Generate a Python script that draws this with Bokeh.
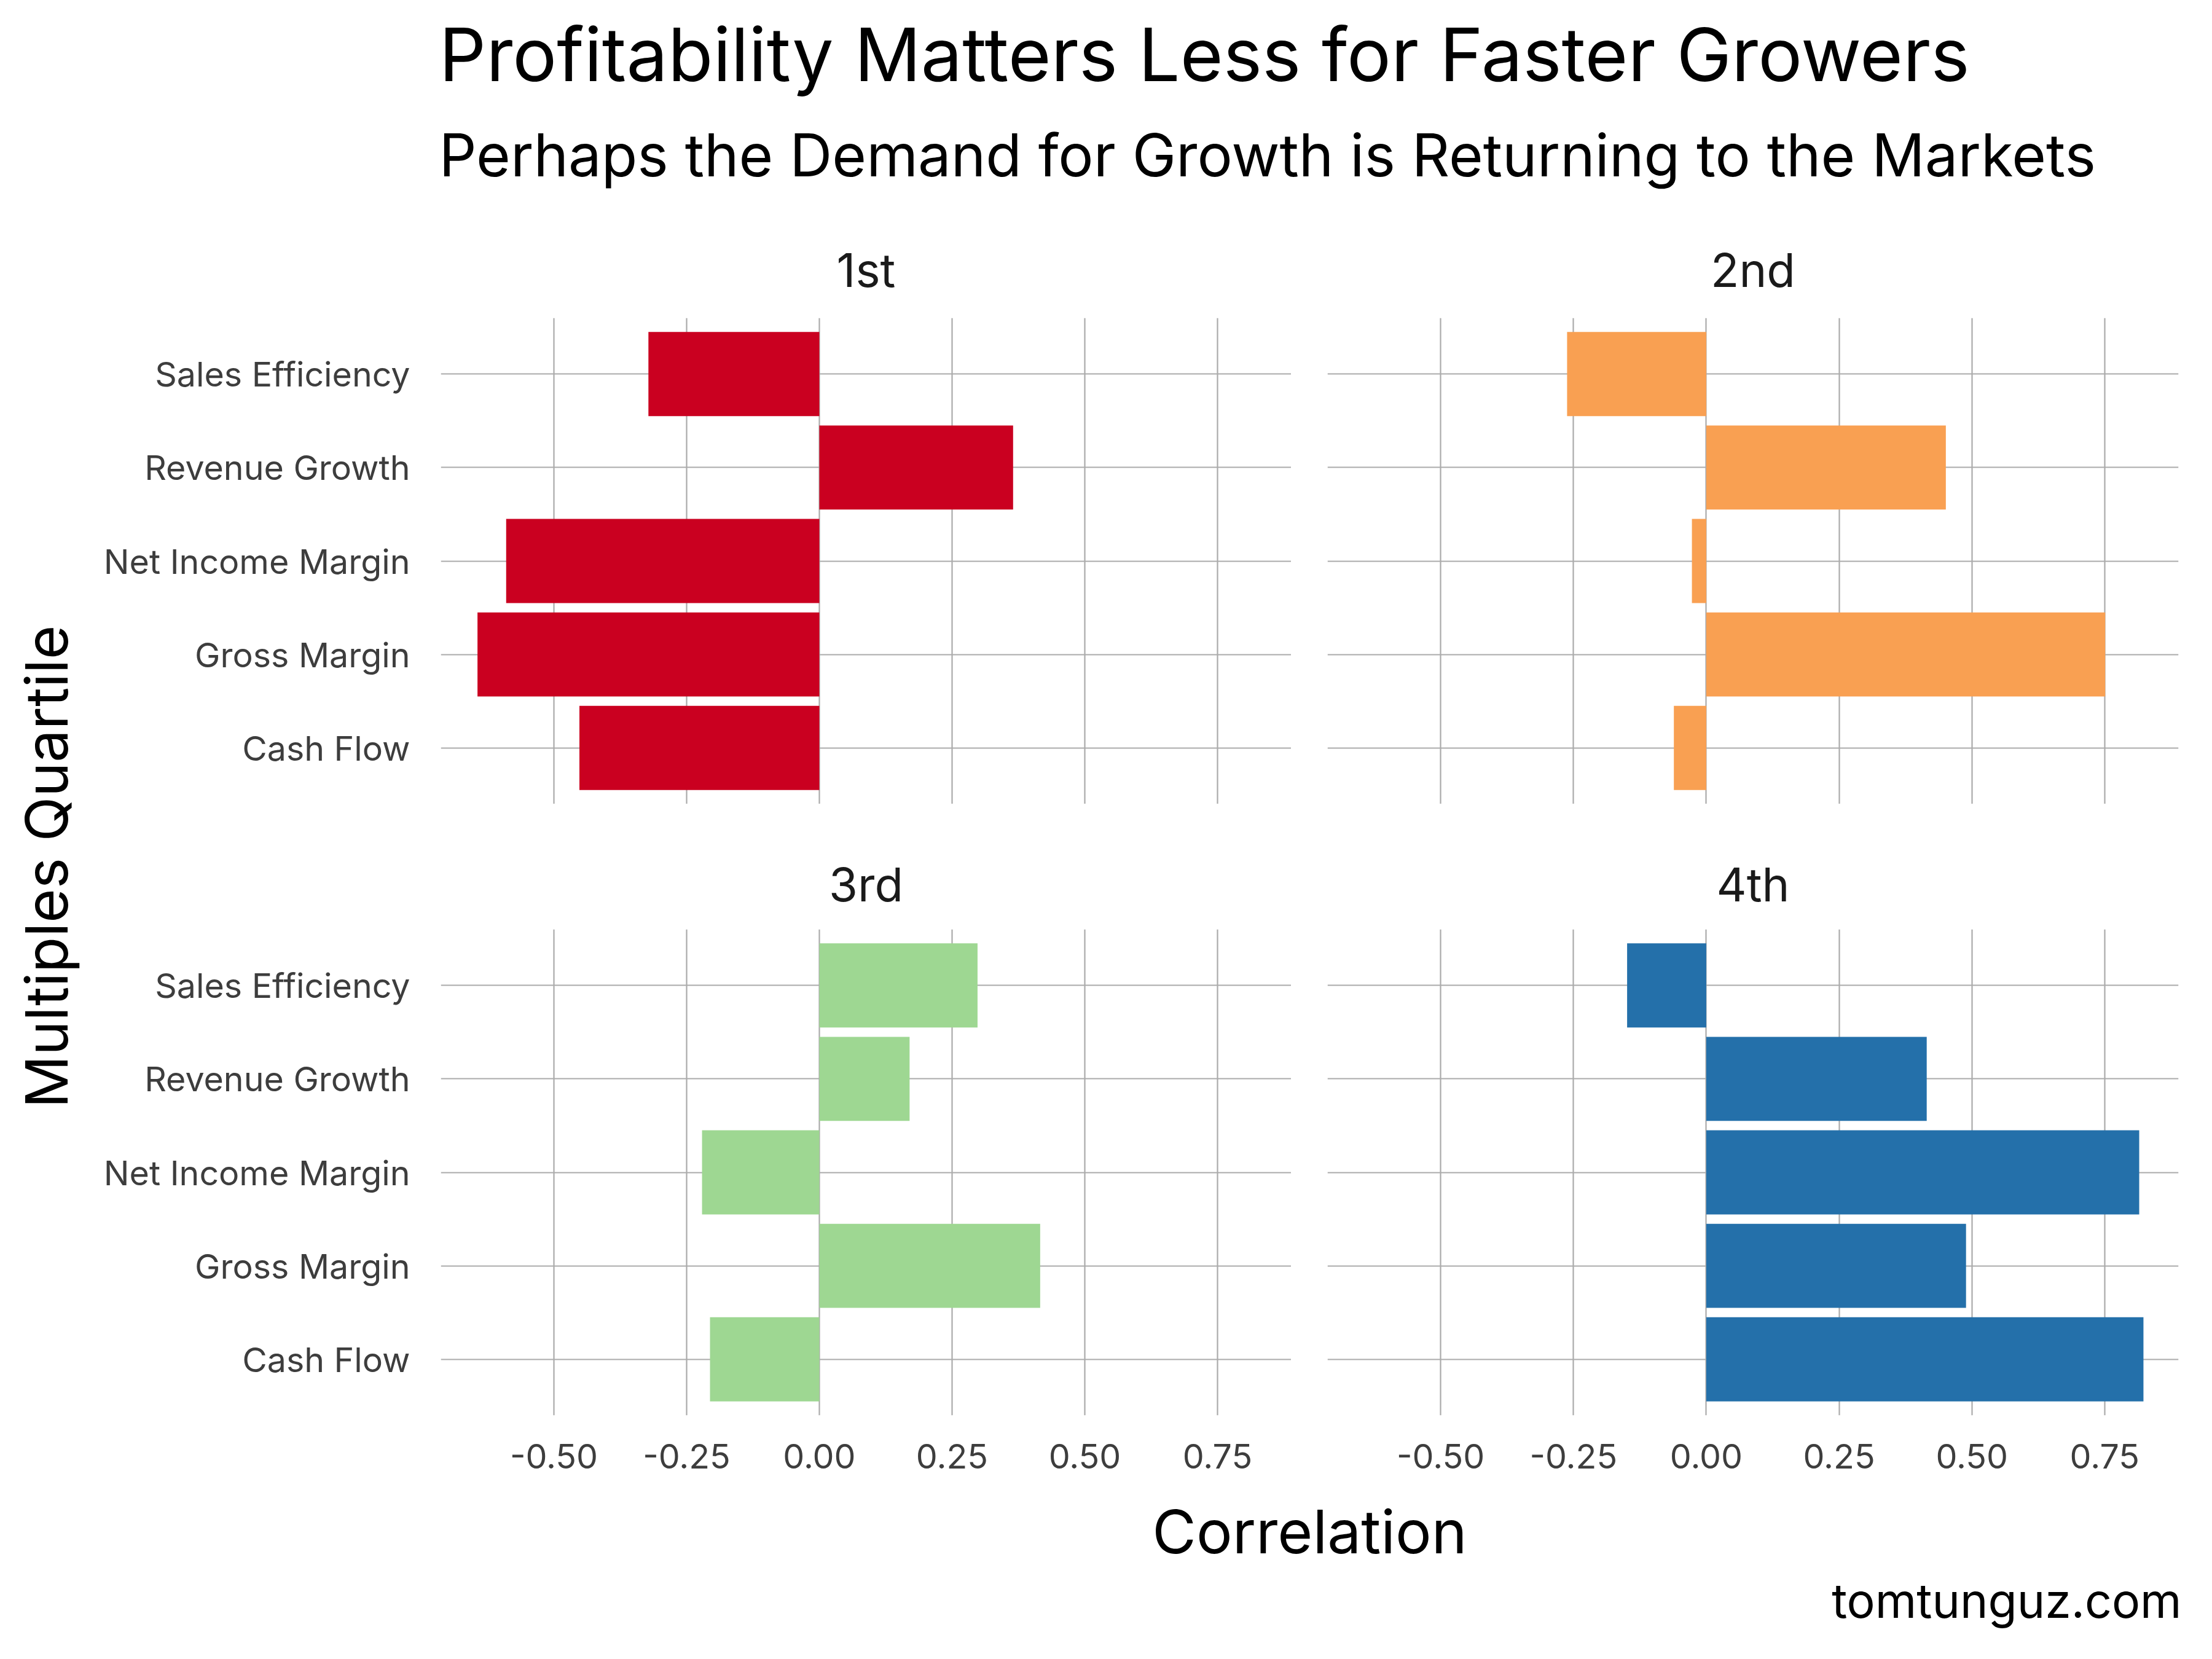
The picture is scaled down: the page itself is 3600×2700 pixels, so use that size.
from bokeh.plotting import figure
from bokeh.models import Label, FactorRange, Range1d, FixedTicker, ColumnDataSource
from bokeh.layouts import column, row
from bokeh.embed import file_html
from bokeh.resources import INLINE
from math import pi

# ---- data ----
metrics = ["Cash Flow", "Gross Margin", "Net Income Margin", "Revenue Growth", "Sales Efficiency"]
quartiles = ["1st", "2nd", "3rd", "4th"]
q1_values = [-0.452, -0.644, -0.590, 0.365, -0.322]
q2_values = [-0.061, 0.751, -0.027, 0.451, -0.262]
q3_values = [-0.206, 0.416, -0.221, 0.170, 0.298]
q4_values = [0.823, 0.489, 0.815, 0.415, -0.149]
quartile_colors = ["#CA0020", "#F9A052", "#9ED792", "#2470AA"]
x_ticks = [-0.5, -0.25, 0.0, 0.25, 0.5, 0.75]
x_tick_labels = ["-0.50", "-0.25", "0.00", "0.25", "0.50", "0.75"]

title_text = "Profitability Matters Less for Faster Growers"
subtitle_text = "Perhaps the Demand for Growth is Returning to the Markets"
x_title = "Correlation"
y_title = "Multiples Quartile"
caption_text = "tomtunguz.com"

# ---- style / layout ----
FONT = "Inter"
GRID = "#ABABAB"
TICK_COLOR = "#3D3D3D"
TICK_SIZE = "55.5px"
X_LIMITS = (-0.713, 0.889)

series = [q1_values, q2_values, q3_values, q4_values]

YLAB_W = 160
LW, RW = 1941, 1491          # left / right panel figure widths
L_BORDER, R_LEFT, R_RIGHT = 557, 59, 47
FRAME_H = 791
HEADER_H, STRIP_H, BOTTOM_AX, FOOTER_H = 517, 204, 120, 268
W = YLAB_W + LW + RW
YLAB_H = FRAME_H * 2 + STRIP_H + BOTTOM_AX

# frame centres (page px) for the strip labels
left_center = YLAB_W + L_BORDER + (LW - L_BORDER) / 2
right_center = YLAB_W + LW + R_LEFT + (RW - R_LEFT - R_RIGHT) / 2


def blank(w, h):
    f = figure(width=w, height=h, x_range=(0, 1), y_range=(0, 1),
               toolbar_location=None, output_backend="svg", min_border=0,
               x_axis_location=None, y_axis_location=None,
               outline_line_color=None)
    f.grid.visible = False
    return f


def label(fig, x, y, text, size, align="left", color="black", angle=0.0, baseline="alphabetic"):
    fig.add_layout(Label(x=x, y=y, x_units="screen", y_units="screen", text=text,
                         angle=angle, text_font=FONT, text_font_size=size, text_color=color,
                         text_baseline=baseline, text_align=align))


def panel(i, width, height, left, right, bottom, show_y, show_x):
    p = figure(width=width, height=height,
               x_range=Range1d(*X_LIMITS),
               y_range=FactorRange(*metrics, range_padding=0.1, range_padding_units="absolute"),
               toolbar_location=None, output_backend="svg",
               min_border_left=left, min_border_right=right,
               min_border_top=0, min_border_bottom=bottom,
               outline_line_color=None)
    src = ColumnDataSource(dict(metric=metrics, value=series[i]))
    p.hbar(y="metric", left=0, right="value", height=0.9, source=src,
           fill_color=quartile_colors[i], line_color=None)
    p.xaxis.ticker = FixedTicker(ticks=x_ticks)
    p.xaxis.major_label_overrides = dict(zip(x_ticks, x_tick_labels))
    for ax in p.axis:
        ax.axis_line_color = None
        ax.major_tick_line_color = None
        ax.minor_tick_line_color = None
        ax.major_tick_out = 0
        ax.major_tick_in = 0
        ax.minor_tick_out = 0
        ax.major_label_text_font = FONT
        ax.major_label_text_font_size = TICK_SIZE
        ax.major_label_text_color = TICK_COLOR
    p.yaxis.major_label_standoff = 50
    p.xaxis.major_label_standoff = 46
    p.xgrid.grid_line_color = GRID
    p.xgrid.grid_line_width = 2.2
    p.ygrid.grid_line_color = GRID
    p.ygrid.grid_line_width = 2.2
    p.xaxis.visible = show_x
    p.yaxis.visible = show_y
    return p


p1 = panel(0, LW, FRAME_H, L_BORDER, 0, 0, True, False)
p2 = panel(1, RW, FRAME_H, R_LEFT, R_RIGHT, 0, False, False)
p3 = panel(2, LW, FRAME_H + BOTTOM_AX, L_BORDER, 0, BOTTOM_AX, True, True)
p4 = panel(3, RW, FRAME_H + BOTTOM_AX, R_LEFT, R_RIGHT, BOTTOM_AX, False, True)

header = blank(W, HEADER_H)
label(header, 714, 429, title_text, "120px")
label(header, 714, 266, subtitle_text, "95.7px")
label(header, left_center, 78.5, quartiles[0], "76px", align="center", color="#1A1A1A")
label(header, right_center, 78.5, quartiles[1], "76px", align="center", color="#1A1A1A")

strip = blank(LW + RW, STRIP_H)
label(strip, left_center - YLAB_W, 73.5, quartiles[2], "76px", align="center", color="#1A1A1A")
label(strip, right_center - YLAB_W, 73.5, quartiles[3], "76px", align="center", color="#1A1A1A")

ylab = blank(YLAB_W, YLAB_H)
label(ylab, 75, YLAB_H - (1410 - HEADER_H), y_title, "95px", align="center",
      angle=pi / 2, baseline="middle")

footer = blank(W, FOOTER_H)
label(footer, 2131, 198.75, x_title, "98px", align="center")
label(footer, 3550, 87, caption_text, "77px", align="right")

layout = column(header,
                row(ylab, column(row(p1, p2), strip, row(p3, p4))),
                footer)

open("out.html", "w").write(file_html(layout, INLINE))
